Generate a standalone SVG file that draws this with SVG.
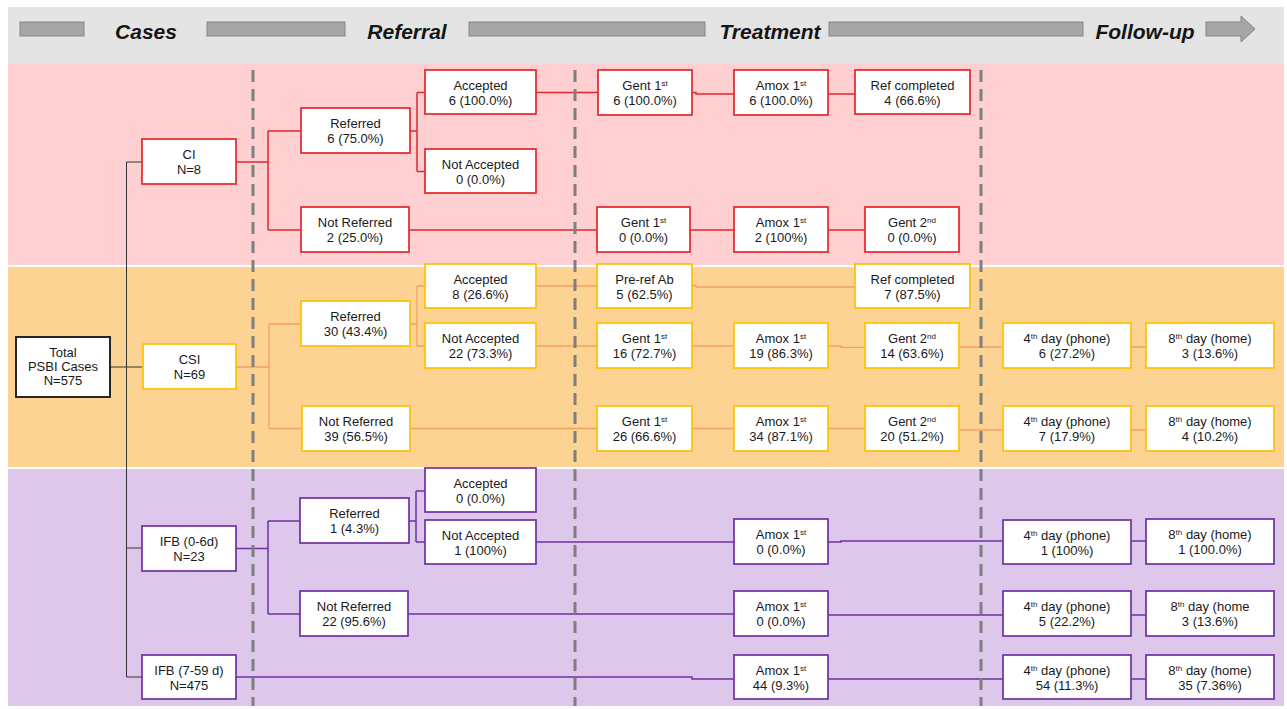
<svg xmlns="http://www.w3.org/2000/svg" width="1287" height="709" viewBox="0 0 1287 709">
<style>
.t{font-family:"Liberation Sans",Arial,sans-serif;font-size:13px;fill:#1a1a1a;text-anchor:middle}
.sup{font-size:8px}
.hdr{font-family:"Liberation Sans",Arial,sans-serif;font-size:21px;font-weight:bold;font-style:italic;fill:#151515;text-anchor:middle}
.bar{fill:#a6a6a6;stroke:#858585;stroke-width:1}
.r rect{fill:#fff;stroke:#e5262b;stroke-width:1.7}
.o rect{fill:#fff;stroke:#ffc000;stroke-width:1.7}
.p rect{fill:#fff;stroke:#7030a0;stroke-width:1.7}
.k rect{fill:#fff;stroke:#111;stroke-width:1.8}
.dash{stroke:#7f7f7f;stroke-width:3;stroke-dasharray:12 7;fill:none}
.cr{stroke:#e0282c;stroke-width:1.5;fill:none}
.co{stroke:#f2a060;stroke-width:1.3;fill:none}
.cp{stroke:#7030a0;stroke-width:1.5;fill:none}
.ck{stroke:#333;stroke-width:1;fill:none}
</style>
<rect x="0" y="0" width="1287" height="709" fill="#fff"/>
<g id="header">
<rect x="8" y="7" width="1276" height="57" fill="#e4e4e4"/>
<rect class="bar" x="20" y="22" width="64" height="14"/>
<text class="hdr" x="146" y="39">Cases</text>
<rect class="bar" x="207" y="22" width="138" height="14"/>
<text class="hdr" x="407" y="39">Referral</text>
<rect class="bar" x="469" y="22" width="236" height="14"/>
<text class="hdr" x="770" y="39">Treatment</text>
<rect class="bar" x="829" y="22" width="254" height="14"/>
<text class="hdr" x="1145" y="39">Follow-up</text>
<path class="bar" d="M1206,22 H1241 V16 L1255,29 L1241,42 V36 H1206 Z"/>
</g>
<g id="bands">
<rect x="8" y="64" width="1276" height="201" fill="#ffd0d1"/>
<rect x="8" y="267" width="1276" height="200" fill="#fdd394"/>
<rect x="8" y="469" width="1276" height="237" fill="#ddc8ec"/>
</g>
<g id="connectors">
<path class="ck" d="M126.5,162 V677 M126.5,162 H142 M110,367 H143 M126.5,548 H142 M126.5,677 H142"/>
<path class="cr" d="M236,162 H268 M268,131 V230 M268,131 H301 M268,230 H301 M410,131 H417 M417,92.5 V171.5 M417,92.5 H425 M417,171.5 H425 M536,92.5 H598 M692,92.5 H696 V94 H734 M828,94 H855 M409,230 H597 M690,230 H734 M828,230 H865"/>
<path class="co" d="M236,367 H269 M269,324 V428.5 M269,324 H301 M269,428.5 H302 M410,324 H417 M417,286 V346 M417,286 H425 M417,346 H425 M536,286 H597 M692,285.5 H696 V287 H855 M536,346 H597 M692,346 H734 M828,346 H841 V347.3 H865 M959,347 H1003 M1131,347 H1146 M410,428.5 H597 M692,428.5 H734 M828,428.5 H865 M959,430 H1003 M1131,430 H1146"/>
<path class="cp" d="M236,548.5 H268 M268,521 V614 M268,521 H300 M268,614 H300 M409,521 H416 M416,491 V542 M416,491 H425 M416,542 H425 M536,542 H734 M828,542 H841 V541 H1003 M1131,541 H1146 M408,614 H734 M828,615 H1003 M1131,615 H1146 M236,677 H692 V679 H734 M828,679 H1003 M1131,679 H1146"/>
</g>
<g id="dividers">
<line class="dash" x1="253" y1="70" x2="253" y2="706"/>
<line class="dash" x1="575" y1="70" x2="575" y2="706"/>
<line class="dash" x1="981" y1="70" x2="981" y2="706"/>
</g>
<g id="total" class="k"><rect x="16" y="337" width="94" height="60"/><text class="t" x="63" y="357">Total</text><text class="t" x="63" y="371">PSBI Cases</text><text class="t" x="63" y="385">N=575</text></g>
<g id="ci" class="r"><rect x="142" y="139" width="94" height="45"/><text class="t" x="189" y="159">CI</text><text class="t" x="189" y="174">N=8</text></g>
<g id="ci-ref" class="r"><rect x="301" y="108" width="109" height="45"/><text class="t" x="355.5" y="128">Referred</text><text class="t" x="355.5" y="143">6 (75.0%)</text></g>
<g id="ci-acc" class="r"><rect x="425" y="70" width="111" height="44"/><text class="t" x="480.5" y="89.5">Accepted</text><text class="t" x="480.5" y="104.5">6 (100.0%)</text></g>
<g id="ci-nacc" class="r"><rect x="425" y="149" width="111" height="44"/><text class="t" x="480.5" y="168.5">Not Accepted</text><text class="t" x="480.5" y="183.5">0 (0.0%)</text></g>
<g id="ci-nref" class="r"><rect x="301" y="207" width="108" height="45"/><text class="t" x="355" y="227">Not Referred</text><text class="t" x="355" y="242">2 (25.0%)</text></g>
<g id="ci-gent1a" class="r"><rect x="598" y="70" width="94" height="45"/><text class="t" x="645" y="90">Gent 1<tspan class="sup" dy="-4">st</tspan></text><text class="t" x="645" y="105">6 (100.0%)</text></g>
<g id="ci-amox1a" class="r"><rect x="734" y="70" width="94" height="45"/><text class="t" x="781" y="90">Amox 1<tspan class="sup" dy="-4">st</tspan></text><text class="t" x="781" y="105">6 (100.0%)</text></g>
<g id="ci-refc" class="r"><rect x="855" y="70" width="115" height="44"/><text class="t" x="912.5" y="89.5">Ref completed</text><text class="t" x="912.5" y="104.5">4 (66.6%)</text></g>
<g id="ci-gent1b" class="r"><rect x="597" y="207" width="93" height="45"/><text class="t" x="643.5" y="227">Gent 1<tspan class="sup" dy="-4">st</tspan></text><text class="t" x="643.5" y="242">0 (0.0%)</text></g>
<g id="ci-amox1b" class="r"><rect x="734" y="207" width="94" height="45"/><text class="t" x="781" y="227">Amox 1<tspan class="sup" dy="-4">st</tspan></text><text class="t" x="781" y="242">2 (100%)</text></g>
<g id="ci-gent2b" class="r"><rect x="865" y="207" width="94" height="45"/><text class="t" x="912" y="227">Gent 2<tspan class="sup" dy="-4">nd</tspan></text><text class="t" x="912" y="242">0 (0.0%)</text></g>
<g id="csi" class="o"><rect x="143" y="344" width="93" height="45"/><text class="t" x="189.5" y="364">CSI</text><text class="t" x="189.5" y="379">N=69</text></g>
<g id="csi-ref" class="o"><rect x="301" y="301" width="109" height="45"/><text class="t" x="355.5" y="321">Referred</text><text class="t" x="355.5" y="336">30 (43.4%)</text></g>
<g id="csi-acc" class="o"><rect x="425" y="264" width="111" height="44"/><text class="t" x="480.5" y="283.5">Accepted</text><text class="t" x="480.5" y="298.5">8 (26.6%)</text></g>
<g id="csi-nacc" class="o"><rect x="425" y="323" width="111" height="45"/><text class="t" x="480.5" y="343">Not Accepted</text><text class="t" x="480.5" y="358">22 (73.3%)</text></g>
<g id="csi-nref" class="o"><rect x="302" y="406" width="108" height="45"/><text class="t" x="356" y="426">Not Referred</text><text class="t" x="356" y="441">39 (56.5%)</text></g>
<g id="csi-preref" class="o"><rect x="597" y="264" width="95" height="44"/><text class="t" x="644.5" y="283.5">Pre-ref Ab</text><text class="t" x="644.5" y="298.5">5 (62.5%)</text></g>
<g id="csi-refc" class="o"><rect x="855" y="264" width="115" height="44"/><text class="t" x="912.5" y="283.5">Ref completed</text><text class="t" x="912.5" y="298.5">7 (87.5%)</text></g>
<g id="csi-gent1a" class="o"><rect x="597" y="323" width="95" height="45"/><text class="t" x="644.5" y="343">Gent 1<tspan class="sup" dy="-4">st</tspan></text><text class="t" x="644.5" y="358">16 (72.7%)</text></g>
<g id="csi-amox1a" class="o"><rect x="734" y="323" width="94" height="45"/><text class="t" x="781" y="343">Amox 1<tspan class="sup" dy="-4">st</tspan></text><text class="t" x="781" y="358">19 (86.3%)</text></g>
<g id="csi-gent2a" class="o"><rect x="865" y="323" width="94" height="45"/><text class="t" x="912" y="343">Gent 2<tspan class="sup" dy="-4">nd</tspan></text><text class="t" x="912" y="358">14 (63.6%)</text></g>
<g id="csi-d4a" class="o"><rect x="1003" y="323" width="128" height="45"/><text class="t" x="1067" y="343">4<tspan class="sup" dy="-4">th</tspan><tspan dy="4"> day (phone)</tspan></text><text class="t" x="1067" y="358">6 (27.2%)</text></g>
<g id="csi-d8a" class="o"><rect x="1146" y="323" width="128" height="45"/><text class="t" x="1210" y="343">8<tspan class="sup" dy="-4">th</tspan><tspan dy="4"> day (home)</tspan></text><text class="t" x="1210" y="358">3 (13.6%)</text></g>
<g id="csi-gent1b" class="o"><rect x="597" y="406" width="95" height="45"/><text class="t" x="644.5" y="426">Gent 1<tspan class="sup" dy="-4">st</tspan></text><text class="t" x="644.5" y="441">26 (66.6%)</text></g>
<g id="csi-amox1b" class="o"><rect x="734" y="406" width="94" height="45"/><text class="t" x="781" y="426">Amox 1<tspan class="sup" dy="-4">st</tspan></text><text class="t" x="781" y="441">34 (87.1%)</text></g>
<g id="csi-gent2b" class="o"><rect x="865" y="406" width="94" height="45"/><text class="t" x="912" y="426">Gent 2<tspan class="sup" dy="-4">nd</tspan></text><text class="t" x="912" y="441">20 (51.2%)</text></g>
<g id="csi-d4b" class="o"><rect x="1003" y="406" width="128" height="45"/><text class="t" x="1067" y="426">4<tspan class="sup" dy="-4">th</tspan><tspan dy="4"> day (phone)</tspan></text><text class="t" x="1067" y="441">7 (17.9%)</text></g>
<g id="csi-d8b" class="o"><rect x="1146" y="406" width="128" height="45"/><text class="t" x="1210" y="426">8<tspan class="sup" dy="-4">th</tspan><tspan dy="4"> day (home)</tspan></text><text class="t" x="1210" y="441">4 (10.2%)</text></g>
<g id="ifb1" class="p"><rect x="142" y="526" width="94" height="45"/><text class="t" x="189" y="546">IFB (0-6d)</text><text class="t" x="189" y="561">N=23</text></g>
<g id="ifb1-ref" class="p"><rect x="300" y="498" width="109" height="45"/><text class="t" x="354.5" y="518">Referred</text><text class="t" x="354.5" y="533">1 (4.3%)</text></g>
<g id="ifb1-acc" class="p"><rect x="425" y="468" width="111" height="44"/><text class="t" x="480.5" y="487.5">Accepted</text><text class="t" x="480.5" y="502.5">0 (0.0%)</text></g>
<g id="ifb1-nacc" class="p"><rect x="425" y="520" width="111" height="44"/><text class="t" x="480.5" y="539.5">Not Accepted</text><text class="t" x="480.5" y="554.5">1 (100%)</text></g>
<g id="ifb1-nref" class="p"><rect x="300" y="591" width="108" height="45"/><text class="t" x="354" y="611">Not Referred</text><text class="t" x="354" y="626">22 (95.6%)</text></g>
<g id="ifb1-amoxa" class="p"><rect x="734" y="519" width="94" height="45"/><text class="t" x="781" y="539">Amox 1<tspan class="sup" dy="-4">st</tspan></text><text class="t" x="781" y="554">0 (0.0%)</text></g>
<g id="ifb1-d4a" class="p"><rect x="1003" y="520" width="128" height="44"/><text class="t" x="1067" y="539.5">4<tspan class="sup" dy="-4">th</tspan><tspan dy="4"> day (phone)</tspan></text><text class="t" x="1067" y="554.5">1 (100%)</text></g>
<g id="ifb1-d8a" class="p"><rect x="1146" y="519" width="128" height="45"/><text class="t" x="1210" y="539">8<tspan class="sup" dy="-4">th</tspan><tspan dy="4"> day (home)</tspan></text><text class="t" x="1210" y="554">1 (100.0%)</text></g>
<g id="ifb1-amoxb" class="p"><rect x="734" y="591" width="94" height="45"/><text class="t" x="781" y="611">Amox 1<tspan class="sup" dy="-4">st</tspan></text><text class="t" x="781" y="626">0 (0.0%)</text></g>
<g id="ifb1-d4b" class="p"><rect x="1003" y="591" width="128" height="45"/><text class="t" x="1067" y="611">4<tspan class="sup" dy="-4">th</tspan><tspan dy="4"> day (phone)</tspan></text><text class="t" x="1067" y="626">5 (22.2%)</text></g>
<g id="ifb1-d8b" class="p"><rect x="1146" y="591" width="128" height="45"/><text class="t" x="1210" y="611">8<tspan class="sup" dy="-4">th</tspan><tspan dy="4"> day (home</tspan></text><text class="t" x="1210" y="626">3 (13.6%)</text></g>
<g id="ifb2" class="p"><rect x="142" y="655" width="94" height="44"/><text class="t" x="189" y="674.5">IFB (7-59 d)</text><text class="t" x="189" y="689.5">N=475</text></g>
<g id="ifb2-amox" class="p"><rect x="734" y="655" width="94" height="44"/><text class="t" x="781" y="674.5">Amox 1<tspan class="sup" dy="-4">st</tspan></text><text class="t" x="781" y="689.5">44 (9.3%)</text></g>
<g id="ifb2-d4" class="p"><rect x="1003" y="655" width="128" height="44"/><text class="t" x="1067" y="674.5">4<tspan class="sup" dy="-4">th</tspan><tspan dy="4"> day (phone)</tspan></text><text class="t" x="1067" y="689.5">54 (11.3%)</text></g>
<g id="ifb2-d8" class="p"><rect x="1146" y="655" width="128" height="44"/><text class="t" x="1210" y="674.5">8<tspan class="sup" dy="-4">th</tspan><tspan dy="4"> day (home)</tspan></text><text class="t" x="1210" y="689.5">35 (7.36%)</text></g>
</svg>
